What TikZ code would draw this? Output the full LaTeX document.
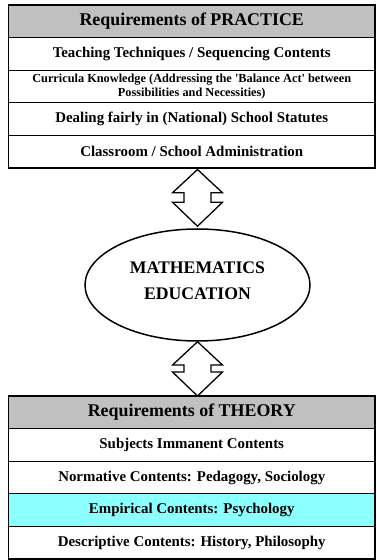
\documentclass[tikz,border=0pt]{standalone}
\usepackage{fontspec}
\setmainfont{Liberation Serif}
\usetikzlibrary{positioning,calc,shapes.geometric}
\definecolor{headgray}{RGB}{192,192,192}
\definecolor{lightcyan}{RGB}{140,255,255}
\newcommand{\twowayarrow}[2]{%
  \draw[line width=1.3pt, line join=miter, fill=white]
    (#1) -- ($(#1)+(25,-23.3)$) -- ($(#1)+(13.5,-23.3)$)
    -- ($(#2)+(13.5,24)$) -- ($(#2)+(25,24)$) -- (#2)
    -- ($(#2)+(-25,24)$) -- ($(#2)+(-13.5,24)$)
    -- ($(#1)+(-13.5,-23.3)$) -- ($(#1)+(-25,-23.3)$) -- cycle;}
\begin{document}
\begin{tikzpicture}[x=1pt, y=1pt,
    row/.style={draw, line width=1.3pt, fill=white, minimum width=366.5pt,
      minimum height=32.6pt, inner sep=0pt, outer sep=0pt, align=center,
      font=\fontsize{14.9}{16}\selectfont\bfseries},
    head/.style={row, fill=headgray, font=\fontsize{17.9}{20}\selectfont\bfseries}]
    \useasboundingbox (0,0) rectangle (376,560);
    \node[head, anchor=north] (prac) at (191.75,555) {Requirements of PRACTICE};
    \node[row, below=0pt of prac] (prac1) {Teaching Techniques / Sequencing Contents};
    \node[row, below=0pt of prac1, font=\fontsize{12.3}{13.5}\selectfont\bfseries] (prac2)
        {Curricula Knowledge (Addressing the \textquotesingle Balance Act\textquotesingle\ between\\Possibilities and Necessities)};
    \node[row, below=0pt of prac2] (prac3) {Dealing fairly in (National) School Statutes};
    \node[row, below=0pt of prac3] (prac4) {Classroom / School Administration};
    \node[draw, ellipse, line width=1.5pt, minimum width=225pt, minimum height=112pt,
        align=center, text depth=9pt, font=\fontsize{17.7}{26}\selectfont\bfseries] (math) at (197.5,275)
        {MATHEMATICS\\EDUCATION};
    \node[head, anchor=north] (theo) at (191.75,164) {Requirements of THEORY};
    \node[row, below=0pt of theo] (theo1) {Subjects Immanent Contents};
    \node[row, below=0pt of theo1] (theo2) {Normative Contents: Pedagogy, Sociology};
    \node[row, below=0pt of theo2, fill=lightcyan] (theo3) {Empirical Contents: Psychology};
    \node[row, below=0pt of theo3] (theo4) {Descriptive Contents: History, Philosophy};
    \coordinate[yshift=-1.5pt] (a1) at (prac4.south -| math.north);
    \coordinate[yshift=2pt] (a2) at (math.north);
    \coordinate (b1) at (math.south);
    \coordinate (b2) at (theo.north -| math.south);
    \twowayarrow{a1}{a2}
    \twowayarrow{b1}{b2}
\end{tikzpicture}
\end{document}
